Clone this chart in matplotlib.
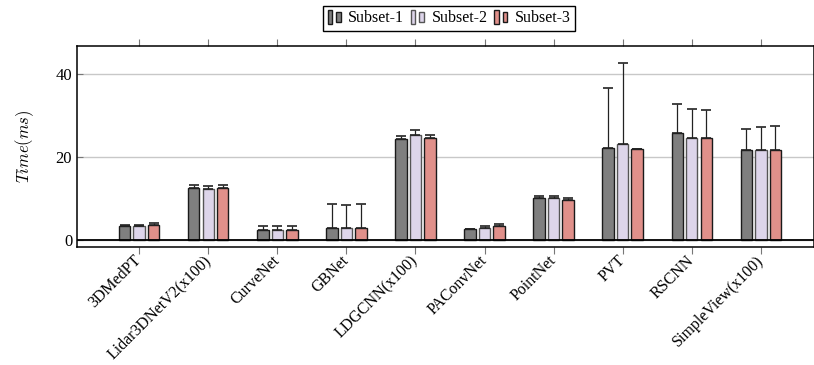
import matplotlib
matplotlib.use("Agg")
import matplotlib.pyplot as plt
import numpy as np
from matplotlib.patches import Rectangle
from matplotlib.legend_handler import HandlerBase

plt.rcParams['font.family'] = ['Liberation Serif', 'DejaVu Serif']
plt.rcParams['mathtext.fontset'] = 'cm'

models = ["3DMedPT", "Lidar3DNetV2(x100)", "CurveNet", "GBNet", "LDGCNN(x100)",
          "PAConvNet", "PointNet", "PVT", "RSCNN", "SimpleView(x100)"]
subsets = ["Subset-1", "Subset-2", "Subset-3"]

sub1 = [3.4, 12.6, 2.5, 3.0, 24.3, 2.6, 10.2, 22.2, 25.9, 21.8]
sub2 = [3.3, 12.4, 2.5, 3.0, 25.4, 3.0, 10.0, 23.2, 24.6, 21.6]
sub3 = [3.6, 12.6, 2.5, 3.0, 24.5, 3.4, 9.6, 21.9, 24.5, 21.7]
err1 = [0.1, 0.6, 0.9, 5.6, 0.7, 0.1, 0.3, 14.5, 6.9, 5.0]
err2 = [0.2, 0.5, 0.8, 5.5, 1.0, 0.3, 0.5, 19.5, 7.0, 5.7]
err3 = [0.4, 0.6, 0.8, 5.6, 0.9, 0.5, 0.5, 0.0, 6.8, 5.7]

colors = ["#7f7f7f", "#ddd5ea", "#e0908a"]
edges = ["#1a1a1a", "#555555", "#1a1a1a"]


class TwoBars(HandlerBase):
    def create_artists(self, legend, orig, xd, yd, w, h, fontsize, trans):
        bw = w * 0.3
        r1 = Rectangle((xd, yd - h * 0.15), bw, h * 1.3, facecolor=orig.get_facecolor(),
                       edgecolor=orig.get_edgecolor(), lw=1, transform=trans)
        r2 = Rectangle((xd + w * 0.55, yd + h * 0.05), bw, h * 0.9, facecolor=orig.get_facecolor(),
                       edgecolor=orig.get_edgecolor(), lw=1, transform=trans)
        return [r1, r2]


fig = plt.figure(figsize=(8.14, 3.65), dpi=100)
ax = fig.add_axes([77 / 814, 118 / 365, 1 - 77 / 814, 201.5 / 365])

x = np.arange(len(models))
bw = 0.166
off = 0.21
handles = []
for i, (vals, errs) in enumerate([(sub1, err1), (sub2, err2), (sub3, err3)]):
    b = ax.bar(x + (i - 1) * off, vals, bw, color=colors[i], edgecolor=edges[i], lw=1,
               label=subsets[i], zorder=3)
    handles.append(b.patches[0])
    ax.errorbar(x + (i - 1) * off, vals, yerr=[np.zeros(len(vals)), errs], fmt='none',
                ecolor="#222222", elinewidth=0.9, capsize=3.5, capthick=1.2, zorder=4)

ax.axhline(0, color='black', lw=1.3, zorder=5)
ax.set_ylim(-1.7, 46.9)
ax.set_xlim(-0.9, 9.77)
ax.set_yticks([0, 20, 40])
ax.yaxis.grid(True, color="#c8c8c8", lw=1)
ax.set_axisbelow(True)
ax.set_xticks(x)
ax.set_xticklabels(models, rotation=45, ha='right', va='center', rotation_mode='anchor',
                   fontsize=11.5)
ax.tick_params(axis='x', direction='out', length=5, color='#777777', top=True, bottom=True,
               pad=3)
ax.tick_params(axis='y', direction='in', length=4, color='#777777', labelsize=12)
ax.set_ylabel("$Time(ms)$", fontsize=12, labelpad=14)
for s in ax.spines.values():
    s.set_linewidth(1.1)

fig.legend(handles, subsets, handler_map={Rectangle: TwoBars()}, loc='center',
           bbox_to_anchor=(449 / 814, 1 - 18.5 / 365), ncol=3, fancybox=False,
           edgecolor='black', framealpha=1, fontsize=11.5, handlelength=1.0,
           handletextpad=0.3, columnspacing=0.4, borderpad=0.3)

fig.savefig("out.png", dpi=100)
